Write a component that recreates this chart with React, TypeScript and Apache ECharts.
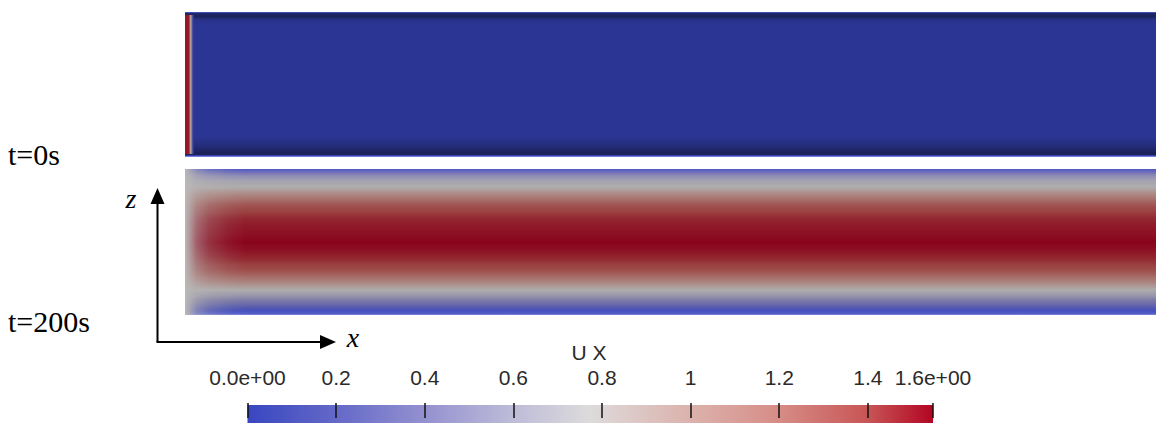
import { useEffect, useRef } from "react";
import * as echarts from "echarts";

// ---- data ----
const UX_MIN = 0;
const UX_MAX = 1.547;
const colorbarTitle = "U X";
const tickLabels = ["0.0e+00", "0.2", "0.4", "0.6", "0.8", "1", "1.2", "1.4", "1.6e+00"];
const timeLabels = ["t=0s", "t=200s"];

// t = 0 s : fluid at rest, inlet slug only
const ux0Z = [0, 1];
const ux0Values = [0, 0];
const ux0InletX = [0, 0.0042, 0.0058, 0.0072, 0.009];
const ux0InletValues = [1.5, 1.5, 0.85, 0.25, 0];
const ux0InletZ = [0.02, 0.98];

// t = 200 s : developed profile across the channel height (z normalised, 0 = bottom)
const ux200Z = [0, 0.034, 0.082, 0.13, 0.178, 0.226, 0.274, 0.315, 0.384, 0.45, 0.5, 0.55, 0.603, 0.664, 0.733, 0.774, 0.822, 0.87, 0.911, 0.959, 1];
const ux200Values = [0.03, 0.1, 0.35, 0.6, 0.8, 1.05, 1.25, 1.36, 1.46, 1.52, 1.547, 1.52, 1.5, 1.46, 1.36, 1.25, 1.05, 0.8, 0.7, 0.45, 0.1];
// entrance region: share of the uniform inlet value still present
const ux200InletValue = 0.78;
const ux200InletX = [0, 0.004, 0.012, 0.025, 0.045, 0.062];
const ux200InletWeight = [1, 0.85, 0.5, 0.25, 0.08, 0];

// ---- styling: colour map (value -> rgb) and lighting of the slabs ----
const CMAP: [number, number[]][] = [
  [0, [56, 70, 192]],
  [0.2, [100, 105, 200]],
  [0.4, [148, 145, 208]],
  [0.6, [190, 188, 216]],
  [0.7735, [221, 219, 219]],
  [1.0, [220, 178, 172]],
  [1.2, [214, 140, 134]],
  [1.4, [200, 85, 85]],
  [1.547, [178, 5, 35]],
];
const topShade: number[][] = [[0, 1.35], [0.008, 0.55], [0.03, 0.48], [0.055, 0.72], [0.09, 0.77], [0.86, 0.77], [0.93, 0.62], [0.975, 0.45], [0.986, 0.5], [0.993, 1.3], [1, 1.3]];
const bottomShade: number[][] = [[0, 1.0], [0.03, 0.88], [0.1, 0.79], [0.35, 0.77], [0.65, 0.77], [0.9, 0.79], [0.96, 0.9], [0.978, 1.0], [0.99, 1.1], [1, 1.35]];

function interp(xs: number[], ys: number[], x: number): number {
  if (x <= xs[0]) return ys[0];
  for (let i = 1; i < xs.length; i++) {
    if (x <= xs[i]) {
      const t = (x - xs[i - 1]) / (xs[i] - xs[i - 1] || 1);
      return ys[i - 1] + (ys[i] - ys[i - 1]) * t;
    }
  }
  return ys[ys.length - 1];
}

function colorOf(v: number, shade: number, alpha = 1): string {
  const vs = CMAP.map((c) => c[0]);
  let rgb = [0, 1, 2].map((k) => interp(vs, CMAP.map((c) => c[1][k]), v));
  if (shade <= 1) rgb = rgb.map((c) => c * shade);
  else rgb = rgb.map((c) => c + (255 - c) * (shade - 1));
  const r = rgb.map((c) => Math.round(Math.max(0, Math.min(255, c))));
  return `rgba(${r[0]},${r[1]},${r[2]},${alpha})`;
}

function shadeAt(stops: number[][], o: number) {
  return interp(stops.map((s) => s[0]), stops.map((s) => s[1]), o);
}

function verticalGradient(zs: number[], vals: number[], shade: number[][]) {
  const stops: { offset: number; color: string }[] = [];
  const N = 400;
  for (let i = 0; i <= N; i++) {
    const o = i / N;
    stops.push({ offset: o, color: colorOf(interp(zs, vals, 1 - o), shadeAt(shade, o)) });
  }
  return new echarts.graphic.LinearGradient(0, 0, 0, 1, stops);
}

function horizontalValueGradient(xs: number[], vals: number[], shade: number) {
  const stops: { offset: number; color: string }[] = [];
  const N = 80;
  const x0 = xs[0];
  const L = xs[xs.length - 1] - x0;
  for (let i = 0; i <= N; i++) {
    const o = i / N;
    stops.push({ offset: o, color: colorOf(interp(xs, vals, x0 + o * L), shade) });
  }
  return new echarts.graphic.LinearGradient(0, 0, 1, 0, stops);
}

function horizontalAlphaGradient(xs: number[], w: number[], value: number, shade: number) {
  const L = xs[xs.length - 1];
  const stops = xs.map((x, i) => ({ offset: x / L, color: colorOf(value, shade, w[i]) }));
  return new echarts.graphic.LinearGradient(0, 0, 1, 0, stops);
}

function rectFrom(api: any, x0: number, y0: number, x1: number, y1: number) {
  const a = api.coord([x0, y1]);
  const b = api.coord([x1, y0]);
  return { x: a[0], y: a[1], width: b[0] - a[0], height: b[1] - a[1] };
}

const SERIF = "'Times New Roman', 'Liberation Serif', 'DejaVu Serif', serif";
const SANS = "Liberation Sans";

function serifText(text: string, x: number, y: number, size: number, italic: boolean, align: string) {
  return {
    type: "text",
    x,
    y,
    style: {
      text,
      fontFamily: SERIF,
      fontSize: size,
      fontStyle: italic ? "italic" : "normal",
      fill: "#000",
      align,
      verticalAlign: "middle",
    },
  };
}

function buildOption(): any {
  return {
    animation: false,
    backgroundColor: "#ffffff",
    grid: [
      { left: 185, top: 12, width: 971, height: 145 },
      { left: 185, top: 169, width: 971, height: 146 },
      { left: 247.5, top: 405, width: 685.5, height: 18 },
    ],
    xAxis: [
      { gridIndex: 0, type: "value", min: 0, max: 1, show: false },
      { gridIndex: 1, type: "value", min: 0, max: 1, show: false },
      {
        gridIndex: 2,
        type: "value",
        min: UX_MIN,
        max: UX_MAX,
        interval: 0.2,
        position: "top",
        offset: -5,
        z: 10,
        axisLine: { show: false },
        splitLine: { show: false },
        axisTick: { show: true, length: 15, lineStyle: { color: "#111", width: 1.5 } },
        axisLabel: {
          show: true,
          margin: 22,
          showMinLabel: true,
          showMaxLabel: true,
          fontFamily: SANS,
          fontSize: 21,
          color: "#2a2a2a",
          formatter: (_v: number, i: number) => tickLabels[i] ?? "",
        },
      },
    ],
    yAxis: [
      { gridIndex: 0, type: "value", min: 0, max: 1, show: false },
      { gridIndex: 1, type: "value", min: 0, max: 1, show: false },
      { gridIndex: 2, type: "value", min: 0, max: 1, show: false },
    ],
    series: [
      {
        type: "custom",
        xAxisIndex: 0,
        yAxisIndex: 0,
        data: [[0, 0]],
        renderItem: (_p: any, api: any) => ({
          type: "group",
          children: [
            { type: "rect", shape: rectFrom(api, 0, 0, 1, 1), style: { fill: verticalGradient(ux0Z, ux0Values, topShade) } },
            {
              type: "rect",
              shape: rectFrom(api, ux0InletX[0], ux0InletZ[0], ux0InletX[ux0InletX.length - 1], ux0InletZ[1]),
              style: { fill: horizontalValueGradient(ux0InletX, ux0InletValues, 0.8) },
            },
          ],
        }),
      },
      {
        type: "custom",
        xAxisIndex: 1,
        yAxisIndex: 1,
        data: [[0, 0]],
        renderItem: (_p: any, api: any) => ({
          type: "group",
          children: [
            { type: "rect", shape: rectFrom(api, 0, 0, 1, 1), style: { fill: verticalGradient(ux200Z, ux200Values, bottomShade) } },
            {
              type: "rect",
              shape: rectFrom(api, ux200InletX[0], 0, ux200InletX[ux200InletX.length - 1], 1),
              style: { fill: horizontalAlphaGradient(ux200InletX, ux200InletWeight, ux200InletValue, 0.84) },
            },
          ],
        }),
      },
      {
        type: "custom",
        xAxisIndex: 2,
        yAxisIndex: 2,
        data: [[UX_MIN, UX_MAX]],
        renderItem: (_p: any, api: any) => ({
          type: "rect",
          shape: rectFrom(api, UX_MIN, 0, UX_MAX, 1),
          style: { fill: horizontalValueGradient([UX_MIN, UX_MAX], [UX_MIN, UX_MAX], 1) },
        }),
      },
    ],
    graphic: [
      serifText(timeLabels[0], 8, 154, 30, false, "left"),
      serifText(timeLabels[1], 8, 321, 30, false, "left"),
      { type: "line", shape: { x1: 157.5, y1: 200, x2: 157.5, y2: 342 }, style: { stroke: "#000", lineWidth: 2 } },
      { type: "line", shape: { x1: 156.5, y1: 342, x2: 324, y2: 342 }, style: { stroke: "#000", lineWidth: 2 } },
      { type: "polygon", shape: { points: [[157.5, 188], [150.5, 204], [164.5, 204]] }, style: { fill: "#000" } },
      { type: "polygon", shape: { points: [[336, 342], [320, 335], [320, 349]] }, style: { fill: "#000" } },
      serifText("z", 131, 198, 28, true, "center"),
      serifText("x", 353, 337, 28, true, "center"),
      { type: "text", x: 589, y: 352.5, style: { text: colorbarTitle, fontFamily: SANS, fontSize: 21, fill: "#2a2a2a", align: "center", verticalAlign: "middle" } },
    ],
  };
}

export default function App() {
  const ref = useRef<HTMLDivElement>(null);
  useEffect(() => {
    if (!ref.current) return;
    const chart = echarts.init(ref.current, null, { renderer: "svg" });
    chart.setOption(buildOption());
    return () => chart.dispose();
  }, []);
  return (
    <div
      ref={ref}
      style={{ position: "fixed", left: 0, top: 0, width: 1156, height: 423, background: "#ffffff" }}
    />
  );
}
